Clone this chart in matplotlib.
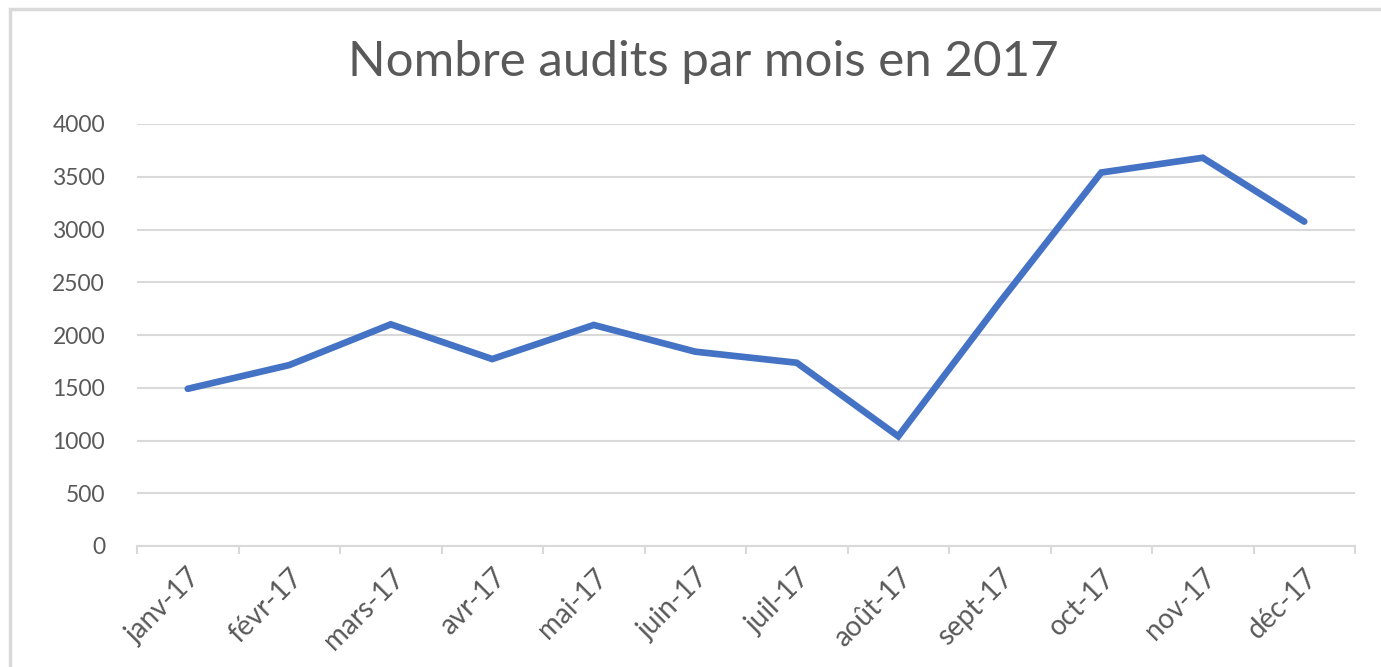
import numpy as np
import matplotlib.pyplot as plt
from matplotlib.patches import Rectangle

# Données
mois = ["janv-17", "févr-17", "mars-17", "avr-17", "mai-17", "juin-17",
        "juil-17", "août-17", "sept-17", "oct-17", "nov-17", "déc-17"]
audits = [1490, 1715, 2101, 1772, 2095, 1842, 1737, 1040, 2310, 3540, 3680, 3075]
y_ticks = [0, 500, 1000, 1500, 2000, 2500, 3000, 3500, 4000]

grey_text = "#595959"
grid_col = "#D9D9D9"
plt.rcParams['font.family'] = ['Lato', 'DejaVu Sans']

fig = plt.figure(figsize=(13.81, 6.67), dpi=100)
ax = fig.add_axes([137 / 1381, 121 / 667, (1355 - 137) / 1381, (546 - 124) / 667])

x = np.arange(len(mois))
ax.plot(x, audits, color="#4472C4", linewidth=4.8, solid_capstyle="round",
        solid_joinstyle="miter", zorder=3)

ax.set_ylim(0, 4000)
ax.set_xlim(-0.5, len(mois) - 0.5)
ax.set_yticks(y_ticks)
ax.set_yticklabels([str(v) for v in y_ticks], fontsize=16.5, color=grey_text)
ax.tick_params(axis="y", length=0, pad=23)
ax.yaxis.grid(True, color=grid_col, linewidth=1.5)
ax.set_axisbelow(True)

# ticks entre les catégories, étiquettes au centre
ax.set_xticks(np.arange(-0.5, len(mois), 1.0))
ax.set_xticklabels([])
ax.set_xticks(x, minor=True)
ax.set_xticklabels(mois, minor=True, rotation=45, ha="right", va="top",
                   rotation_mode="anchor", fontsize=20, color=grey_text)
ax.tick_params(axis="x", which="major", length=6, width=1.5, color=grid_col, direction="out")
ax.tick_params(axis="x", which="minor", length=0, pad=13)

for side in ["left", "right", "top"]:
    ax.spines[side].set_visible(False)
ax.spines["bottom"].set_color(grid_col)
ax.spines["bottom"].set_linewidth(1.5)

fig.text(703 / 1381, 1 - 62 / 667, "Nombre audits par mois en 2017", ha="center", va="center",
         fontsize=35.5, color=grey_text)

# cadre du graphique (gauche et haut seulement visibles)
fig.patches.append(Rectangle((10 / 1381, -0.1), 1.2, 1 - 9 / 667 + 0.1,
                             transform=fig.transFigure, fill=False,
                             edgecolor=grid_col, linewidth=2.5))

fig.savefig("out.png", dpi=100)
